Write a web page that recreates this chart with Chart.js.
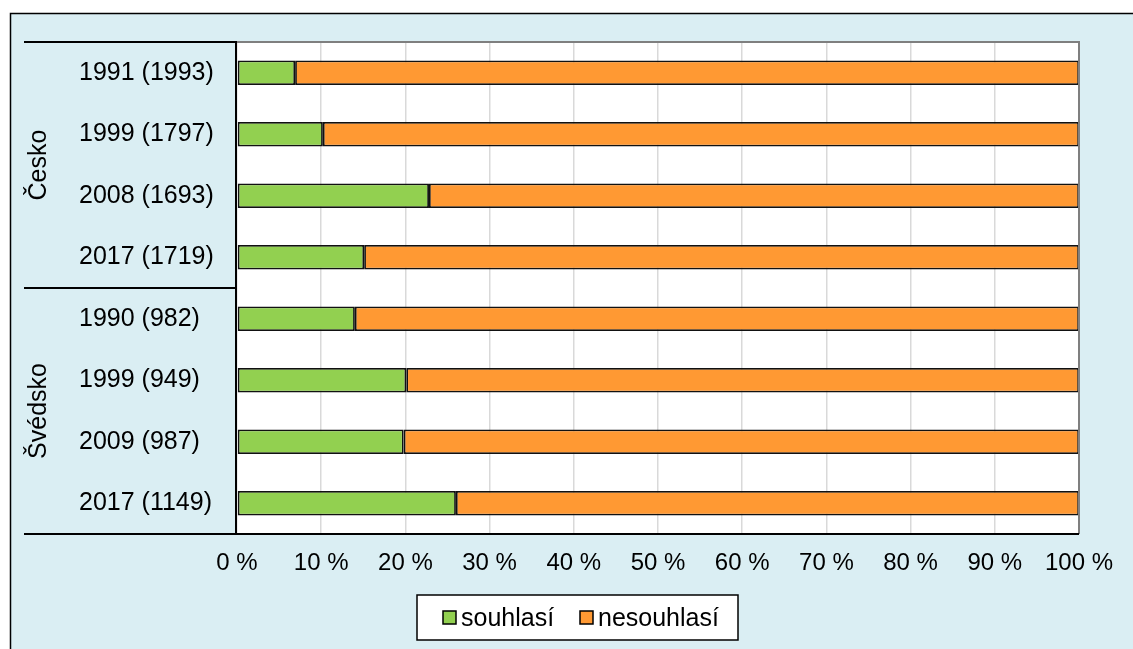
<!DOCTYPE html>
<html lang="cs">
<head>
<meta charset="utf-8">
<title>souhlasí / nesouhlasí</title>
<script src="https://cdn.jsdelivr.net/npm/chart.js@4"></script>
<style>
  html, body { margin: 0; padding: 0; background: #fff; overflow: hidden; }
  canvas { display: block; }
</style>
</head>
<body>
<canvas id="chart" width="1133" height="649"></canvas>
<script>
// --- data ---
const categories = ['1991 (1993)', '1999 (1797)', '2008 (1693)', '2017 (1719)',
                    '1990 (982)', '1999 (949)', '2009 (987)', '2017 (1149)'];
const groups = ['Česko', 'Švédsko'];
const groupSizes = [4, 4];
const souhlasi = [6.9, 10.2, 22.8, 15.1, 14.0, 20.1, 19.8, 26.0];
const nesouhlasi = [93.1, 89.8, 77.2, 84.9, 86.0, 79.9, 80.2, 74.0];
const xTicks = [0, 10, 20, 30, 40, 50, 60, 70, 80, 90, 100];

const FONT = "'Liberation Sans', Arial, sans-serif";
const BG = '#DAEEF3';

// --- background, plot box, separators, group labels, legend ---
const frame = {
    id: 'frame',
    beforeDraw(chart) {
        const { ctx, chartArea: a } = chart;
        ctx.save();
        ctx.fillStyle = '#fff';
        ctx.fillRect(0, 0, chart.width, chart.height);
        ctx.fillStyle = BG;
        ctx.fillRect(10, 13, chart.width, chart.height);
        ctx.strokeStyle = '#000';
        ctx.lineWidth = 1.5;
        ctx.beginPath();
        ctx.moveTo(10.5, chart.height + 5);
        ctx.lineTo(10.5, 13.5);
        ctx.lineTo(chart.width + 5, 13.5);
        ctx.stroke();
        ctx.fillStyle = '#fff';
        ctx.fillRect(a.left, a.top, a.right - a.left, a.bottom - a.top);
        ctx.restore();
    },
    afterDatasetsDraw(chart) {
        const { ctx, chartArea: a, scales: { y } } = chart;
        ctx.save();
        // plot border top / right
        ctx.strokeStyle = '#7f7f7f';
        ctx.lineWidth = 2;
        ctx.beginPath();
        ctx.moveTo(a.left, a.top);
        ctx.lineTo(a.right, a.top);
        ctx.lineTo(a.right, a.bottom);
        ctx.stroke();

        // category axis line and group separators
        ctx.strokeStyle = '#000';
        ctx.lineWidth = 2;
        ctx.beginPath();
        ctx.moveTo(a.left - 1, a.top);
        ctx.lineTo(a.left - 1, a.bottom);
        ctx.stroke();

        const leftX = 24;
        ctx.beginPath();
        ctx.moveTo(leftX, a.top);
        ctx.lineTo(a.left, a.top);
        ctx.moveTo(leftX, a.bottom);
        ctx.lineTo(a.right, a.bottom);
        let start = 0;
        const centers = [];
        groupSizes.forEach((n, i) => {
            const first = y.getPixelForValue(start);
            const last = y.getPixelForValue(start + n - 1);
            centers.push((first + last) / 2);
            if (i < groupSizes.length - 1) {
                const sep = (last + y.getPixelForValue(start + n)) / 2;
                ctx.moveTo(leftX, sep);
                ctx.lineTo(a.left, sep);
            }
            start += n;
        });
        ctx.stroke();

        // group labels (rotated)
        ctx.fillStyle = '#000';
        ctx.font = '25px ' + FONT;
        ctx.textAlign = 'center';
        ctx.textBaseline = 'middle';
        groups.forEach((g, i) => {
            ctx.save();
            ctx.translate(39, centers[i]);
            ctx.rotate(-Math.PI / 2);
            ctx.fillText(g, 0, 0);
            ctx.restore();
        });
        ctx.restore();
    },
    afterDraw(chart) {
        const { ctx } = chart;
        ctx.save();
        // legend box
        ctx.fillStyle = '#fff';
        ctx.fillRect(417, 595, 321, 45);
        ctx.strokeStyle = '#000';
        ctx.lineWidth = 1.5;
        ctx.strokeRect(417, 595, 321, 45);
        ctx.font = '25px ' + FONT;
        ctx.textBaseline = 'middle';
        ctx.textAlign = 'left';
        const itemX = [443, 580];
        chart.data.datasets.forEach((ds, i) => {
            ctx.fillStyle = ds.backgroundColor;
            ctx.fillRect(itemX[i], 611, 13, 13);
            ctx.lineWidth = 1.5;
            ctx.strokeStyle = '#000';
            ctx.strokeRect(itemX[i], 611, 13, 13);
            ctx.fillStyle = '#000';
            ctx.fillText(ds.label, itemX[i] + 18, 619);
        });
        ctx.restore();
    }
};

new Chart(document.getElementById('chart'), {
    type: 'bar',
    data: {
        labels: categories,
        datasets: [
            { label: 'souhlasí', data: souhlasi, backgroundColor: '#92D050',
              borderColor: '#111', borderWidth: 1.8, borderSkipped: false },
            { label: 'nesouhlasí', data: nesouhlasi, backgroundColor: '#FF9933',
              borderColor: '#111', borderWidth: 1.8, borderSkipped: false }
        ]
    },
    options: {
        indexAxis: 'y',
        responsive: false,
        animation: false,
        barPercentage: 0.4,
        categoryPercentage: 1,
        layout: { padding: { left: 79, right: 54, top: 42, bottom: 0 } },
        plugins: { legend: { display: false }, tooltip: { enabled: false } },
        scales: {
            x: {
                stacked: true,
                min: 0, max: 100,
                afterBuildTicks: s => { s.ticks = xTicks.map(v => ({ value: v })); },
                afterFit: s => { s.height = 115; },
                ticks: {
                    callback: v => v + ' %',
                    color: '#000',
                    font: { family: FONT, size: 24 },
                    padding: 15,
                    maxRotation: 0
                },
                grid: { color: '#D9D9D9', lineWidth: 1.5, drawTicks: false },
                border: { display: false }
            },
            y: {
                stacked: true,
                afterFit: s => { s.width = 158; },
                ticks: {
                    crossAlign: 'far',
                    color: '#000',
                    font: { family: FONT, size: 25 }
                },
                grid: { display: false, drawTicks: false },
                border: { display: false }
            }
        }
    },
    plugins: [frame]
});
</script>
</body>
</html>
